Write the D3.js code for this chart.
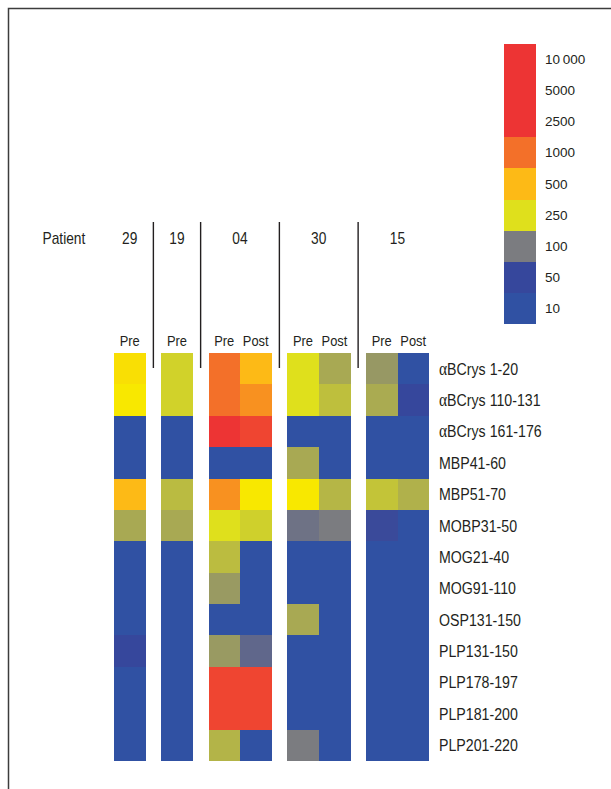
<!DOCTYPE html>
<html>
<head>
<meta charset="utf-8">
<script src="https://cdn.jsdelivr.net/npm/d3@7"></script>
<style>
  html, body { margin: 0; padding: 0; background: #fff; }
  svg { display: block; }
  text { font-family: "Liberation Sans", Arial, sans-serif; fill: #231f20; }
</style>
</head>
<body>
<svg id="chart" width="611" height="789"></svg>
<script>
// Peptides tested (rows)
const peptides = [
  "αBCrys 1-20", "αBCrys 110-131", "αBCrys 161-176", "MBP41-60", "MBP51-70",
  "MOBP31-50", "MOG21-40", "MOG91-110", "OSP131-150", "PLP131-150",
  "PLP178-197", "PLP181-200", "PLP201-220"
];

// Patients and the samples taken from each
const patients = ["29", "19", "04", "30", "15"];
const samples = [
  ["Pre"], ["Pre"], ["Pre", "Post"], ["Pre", "Post"], ["Pre", "Post"]
];

// Response per peptide (row order) for each patient sample
const p29Pre  = [376, 350, 10, 10, 500, 151, 10, 10, 10, 50, 10, 10, 10];
const p19Pre  = [220, 220, 10, 10, 178, 151, 10, 10, 10, 10, 10, 10, 10];
const p04Pre  = [1000, 1000, 2500, 10, 732, 250, 180, 132, 10, 132, 1934, 1934, 167];
const p04Post = [500, 732, 1934, 10, 350, 215, 10, 10, 10, 76, 1934, 1934, 10];
const p30Pre  = [250, 250, 10, 151, 350, 88, 10, 10, 151, 10, 10, 10, 100];
const p30Post = [151, 185, 10, 10, 170, 100, 10, 10, 10, 10, 10, 10, 10];
const p15Pre  = [129, 154, 10, 10, 193, 52, 10, 10, 10, 10, 10, 10, 10];
const p15Post = [10, 50, 10, 10, 162, 10, 10, 10, 10, 10, 10, 10, 10];

const sampleValues = {
  "29|Pre": p29Pre, "19|Pre": p19Pre,
  "04|Pre": p04Pre, "04|Post": p04Post,
  "30|Pre": p30Pre, "30|Post": p30Post,
  "15|Pre": p15Pre, "15|Post": p15Post
};

// Legend levels
const legendLevels = [10000, 5000, 2500, 1000, 500, 250, 100, 50, 10];
const legendLabels = ["10\u2009000", "5000", "2500", "1000", "500", "250", "100", "50", "10"];

// ---- colour scale (log, clamped) ----
const color = d3.scaleLog()
  .domain([10, 50, 100, 250, 350, 500, 1000, 2500])
  .range(["#3051a3", "#36479c", "#7b7c80", "#dfe01c", "#f8e800", "#fdba16", "#f37029", "#ed3434"])
  .interpolate(d3.interpolateRgb)
  .clamp(true);

const svg = d3.select("#chart");

// Condensed text: regular face squeezed horizontally
const NARROW = 0.86;
function narrowText(sel, x, y) {
  return sel.attr("transform", (d, i) => `translate(${x(d, i)},${y(d, i)}) scale(${NARROW},1)`);
}

// Frame (top and left edges)
svg.append("path")
  .attr("d", "M8.5,789 V8.5 H611")
  .attr("fill", "none")
  .attr("stroke", "#3c3c3c")
  .attr("stroke-width", 1.5);

// ---- column layout: each sample is one slot, half a slot between patients ----
const columns = [];
let slot = 0;
patients.forEach((p, gi) => {
  if (gi > 0) slot += 0.5;
  samples[gi].forEach(s => {
    columns.push({ patient: p, sample: s, group: gi, slot: slot });
    slot += 1;
  });
});
const totalSlots = slot;

const x = d3.scaleLinear().domain([0, totalSlots]).range([114, 429]);
const y = d3.scaleBand().domain(peptides).range([353, 761]).padding(0);

// Heatmap cells
const cells = [];
columns.forEach(c => {
  const vals = sampleValues[c.patient + "|" + c.sample];
  peptides.forEach((pep, i) => cells.push({ col: c, peptide: pep, value: vals[i] }));
});

svg.append("g").selectAll("rect")
  .data(cells)
  .join("rect")
  .attr("x", d => x(d.col.slot))
  .attr("y", d => y(d.peptide))
  .attr("width", x(1) - x(0) + 0.3)
  .attr("height", y.bandwidth() + 0.3)
  .attr("fill", d => color(d.value))
  .attr("shape-rendering", "crispEdges");

// Sample labels (Pre / Post)
svg.append("g").selectAll("text")
  .data(columns)
  .join("text")
  .call(narrowText, d => x(d.slot + 0.5), () => 345.5)
  .attr("text-anchor", "middle")
  .attr("font-size", 15)
  .text(d => d.sample);

// Patient header
const groups = patients.map((p, gi) => {
  const cs = columns.filter(c => c.group === gi);
  return { patient: p, start: cs[0].slot, end: cs[cs.length - 1].slot + 1 };
});

svg.append("text")
  .datum("Patient")
  .call(narrowText, () => 42.5, () => 244)
  .attr("font-size", 16)
  .text(d => d);

svg.append("g").selectAll("text")
  .data(groups)
  .join("text")
  .call(narrowText, d => x((d.start + d.end) / 2), () => 244)
  .attr("text-anchor", "middle")
  .attr("font-size", 16)
  .text(d => d.patient);

// Separators between patients
svg.append("g").selectAll("line")
  .data(groups.slice(1))
  .join("line")
  .attr("x1", d => x(d.start - 0.25))
  .attr("x2", d => x(d.start - 0.25))
  .attr("y1", 222)
  .attr("y2", 368)
  .attr("stroke", "#231f20")
  .attr("stroke-width", 1.4);

// Peptide labels
const rowLabels = svg.append("g").selectAll("text")
  .data(peptides)
  .join("text")
  .call(narrowText, () => 439, d => y(d) + y.bandwidth() / 2 + 5.9)
  .attr("font-size", 16.5);

rowLabels.each(function(d) {
  const t = d3.select(this);
  if (d.startsWith("α")) {
    t.append("tspan")
      .attr("font-family", "'Liberation Serif', 'DejaVu Serif', serif")
      .attr("font-size", 18)
      .text("α");
    t.append("tspan").text(d.slice(1));
  } else {
    t.text(d);
  }
});

// ---- legend ----
const ly = d3.scaleBand().domain(legendLevels).range([44, 324]).padding(0);

svg.append("g").selectAll("rect")
  .data(legendLevels)
  .join("rect")
  .attr("x", 504)
  .attr("y", d => ly(d))
  .attr("width", 32)
  .attr("height", ly.bandwidth() + 0.3)
  .attr("fill", d => color(d))
  .attr("shape-rendering", "crispEdges");

svg.append("g").selectAll("text")
  .data(legendLevels)
  .join("text")
  .attr("x", 545)
  .attr("y", d => ly(d) + ly.bandwidth() / 2 + 4.6)
  .attr("font-size", 13.5)
  .text((d, i) => legendLabels[i]);
</script>
</body>
</html>
